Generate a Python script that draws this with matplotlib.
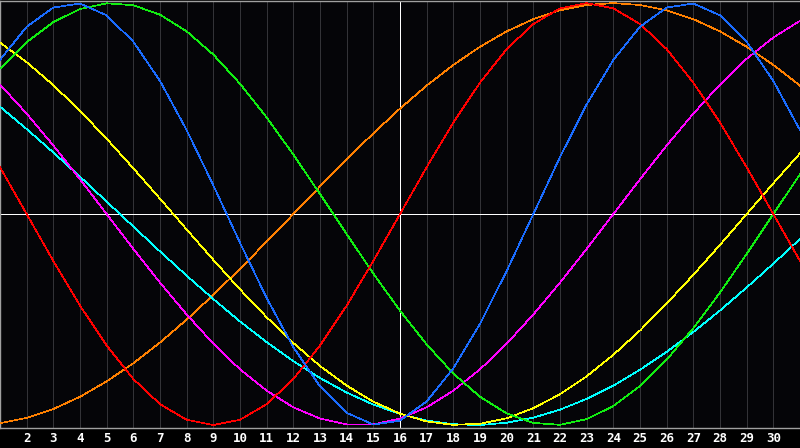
import matplotlib
matplotlib.use("Agg")
import matplotlib.pyplot as plt

# days of the month shown on the x axis
days = list(range(1, 32))
tick_days = list(range(2, 31))
today = 16

# cycle values (-1..1), one per day
physical = [0.731, 0.888, 0.979, 0.998, 0.942, 0.817, 0.631, 0.398, 0.136, -0.136,
            -0.398, -0.631, -0.817, -0.942, -0.998, -0.979, -0.888, -0.731, -0.520, -0.270,
            0, 0.270, 0.520, 0.731, 0.888, 0.979, 0.998, 0.942, 0.817, 0.631, 0.398]
emotional = [0.222, 0, -0.222, -0.434, -0.623, -0.782, -0.901, -0.975, -1.0, -0.975,
             -0.901, -0.782, -0.623, -0.434, -0.222, 0, 0.222, 0.434, 0.623, 0.782,
             0.901, 0.975, 1.0, 0.975, 0.901, 0.782, 0.623, 0.434, 0.222, 0, -0.222]
intellectual = [0.690, 0.815, 0.910, 0.972, 0.999, 0.990, 0.945, 0.866, 0.756, 0.618,
                0.458, 0.282, 0.095, -0.095, -0.282, -0.458, -0.618, -0.756, -0.866, -0.945,
                -0.990, -0.999, -0.972, -0.910, -0.815, -0.690, -0.541, -0.372, -0.189, 0, 0.189]
intuitive = [0.614, 0.476, 0.325, 0.165, 0, -0.165, -0.325, -0.476, -0.614, -0.736,
             -0.837, -0.916, -0.969, -0.997, -0.997, -0.969, -0.916, -0.837, -0.736, -0.614,
             -0.476, -0.325, -0.165, 0, 0.165, 0.325, 0.476, 0.614, 0.736, 0.837, 0.916]
aesthetic = [0.813, 0.720, 0.611, 0.489, 0.357, 0.217, 0.073, -0.073, -0.217, -0.357,
             -0.489, -0.611, -0.720, -0.813, -0.889, -0.946, -0.983, -0.999, -0.994, -0.968,
             -0.920, -0.854, -0.769, -0.667, -0.552, -0.424, -0.288, -0.146, 0, 0.146, 0.288]
awareness = [-0.991, -0.966, -0.924, -0.866, -0.793, -0.707, -0.609, -0.5, -0.383, -0.259,
             -0.131, 0, 0.131, 0.259, 0.383, 0.5, 0.609, 0.707, 0.793, 0.866,
             0.924, 0.966, 0.991, 1.0, 0.991, 0.966, 0.924, 0.866, 0.793, 0.707, 0.609]
spiritual = [0.509, 0.403, 0.292, 0.177, 0.059, -0.059, -0.177, -0.292, -0.403, -0.509,
             -0.607, -0.697, -0.777, -0.846, -0.903, -0.947, -0.979, -0.996, -1.0, -0.989,
             -0.965, -0.927, -0.876, -0.813, -0.738, -0.653, -0.559, -0.457, -0.348, -0.235, -0.118]

series = [
    (awareness, '#ff8000'),
    (spiritual, '#00ffff'),
    (aesthetic, '#ffff00'),
    (intuitive, '#ff00ff'),
    (intellectual, '#11ee11'),
    (emotional, '#ff0000'),
    (physical, '#1a6cff'),
]

fig = plt.figure(figsize=(8, 4.48), dpi=100, facecolor='black')
ax = fig.add_axes([0, 20 / 448, 1, 427 / 448])
ax.set_facecolor('#050508')

px = 0.72  # one pixel in points at 100 dpi

# light vertical line for every day
for d in days:
    ax.axvline(d, color='#333337', lw=px, zorder=1, antialiased=False)

# centre cross
ax.axvline(today, color='white', lw=px, zorder=2, antialiased=False)
ax.axhline(0, color='white', lw=px, zorder=2, antialiased=False)

for values, col in series:
    ax.plot(days, values, color=col, lw=0.5, zorder=3, antialiased=False)

ax.set_xlim(1, 31)
ax.set_ylim(-1.014, 1.01)
ax.set_yticks([])
ax.set_xticks(tick_days)
ax.set_xticklabels([str(d) for d in tick_days], color='white',
                   fontfamily='DejaVu Sans Mono', fontweight='bold', fontsize=9)
ax.tick_params(axis='x', length=0, pad=3)

for side in ['left', 'top', 'bottom']:
    ax.spines[side].set_color('#a0a0a0')
    ax.spines[side].set_linewidth(1.0)
ax.spines['right'].set_visible(False)

fig.savefig('out.png', dpi=100, facecolor='black')
